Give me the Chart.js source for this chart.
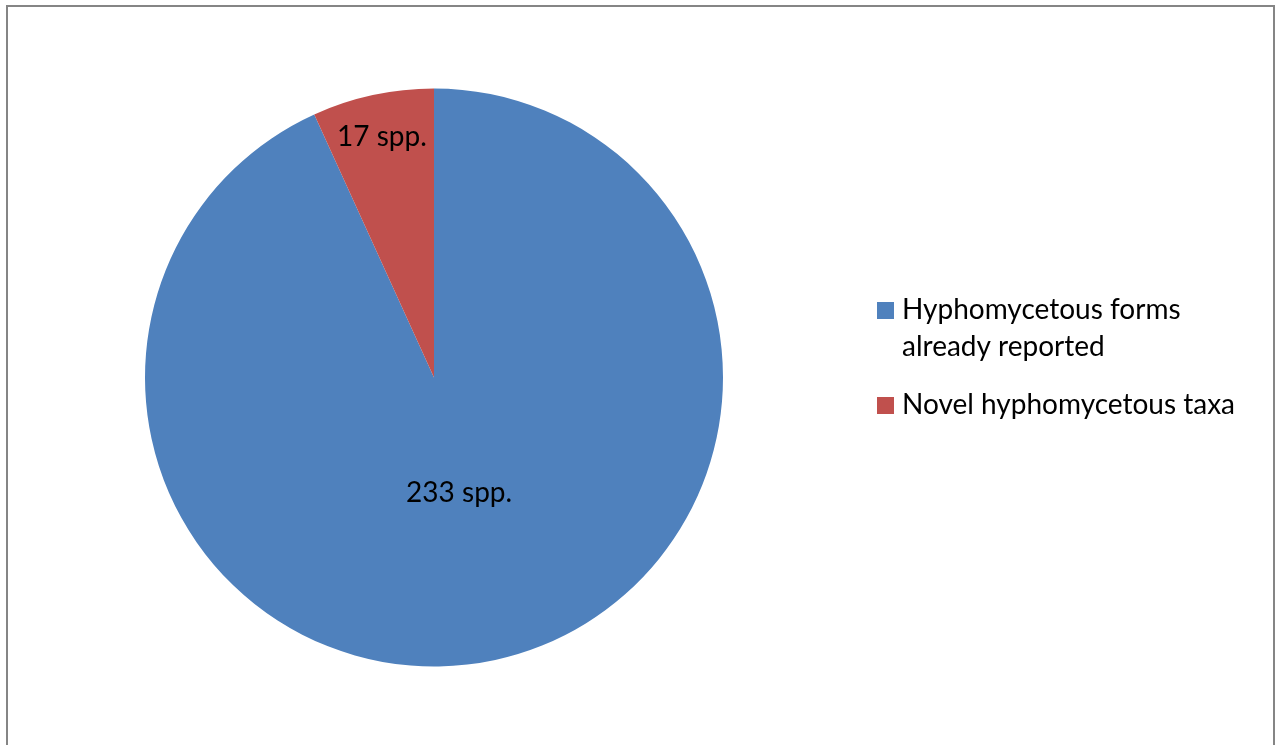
<!DOCTYPE html>
<html>
<head>
<meta charset="utf-8">
<title>Hyphomycetous taxa</title>
<script src="https://cdn.jsdelivr.net/npm/chart.js@4.4.0/dist/chart.umd.min.js"></script>
<style>
  html, body { margin: 0; padding: 0; background: #fff; overflow: hidden; }
  #frame {
    position: absolute; left: 6px; top: 5px; width: 1269px; height: 820px;
    border: 2px solid #858585; box-sizing: border-box;
  }
  #pieChart { position: absolute; left: 0; top: 0; }
</style>
</head>
<body>
<div id="frame"></div>
<canvas id="pieChart" width="1276" height="745"></canvas>
<script>
// data
var categories = [['Hyphomycetous forms', 'already reported'], 'Novel hyphomycetous taxa'];
var speciesCount = [233, 17];
var sliceColors = ['#4f81bd', '#c0504d'];

var FONT = '"Lato", "Liberation Sans", sans-serif';
var labelRadius = [0.41, 0.85];   // where the "spp." labels sit along each slice

// value labels inside the slices
var sliceLabels = {
  id: 'sliceLabels',
  afterDatasetsDraw: function(chart) {
    var ctx = chart.ctx;
    var meta = chart.getDatasetMeta(0);
    ctx.save();
    ctx.font = '28px ' + FONT;
    ctx.fillStyle = '#000';
    ctx.textAlign = 'center';
    ctx.textBaseline = 'middle';
    meta.data.forEach(function(arc, i) {
      var mid = (arc.startAngle + arc.endAngle) / 2;
      var r = arc.outerRadius * labelRadius[i];
      var x = arc.x + Math.cos(mid) * r;
      var y = arc.y + Math.sin(mid) * r;
      ctx.fillText(chart.data.datasets[0].data[i] + ' spp.', x, y);
    });
    ctx.restore();
  }
};

// legend on the right, with the first label on two lines
var sideLegend = {
  id: 'sideLegend',
  afterDraw: function(chart) {
    var ctx = chart.ctx;
    var ds = chart.data.datasets[0];
    var x = 877, y = 302, box = 17, lineH = 37, gap = 21;
    ctx.save();
    ctx.font = '28px ' + FONT;
    ctx.textAlign = 'left';
    ctx.textBaseline = 'alphabetic';
    chart.data.labels.forEach(function(lbl, i) {
      var lines = Array.isArray(lbl) ? lbl : [lbl];
      ctx.fillStyle = ds.backgroundColor[i];
      ctx.fillRect(x, y, box, box);
      ctx.fillStyle = '#000';
      lines.forEach(function(t, j) {
        ctx.fillText(t, x + 25, y + box + j * lineH);
      });
      y += lines.length * lineH + gap;
    });
    ctx.restore();
  }
};

var chart = new Chart(document.getElementById('pieChart'), {
  type: 'pie',
  data: {
    labels: categories,
    datasets: [{
      data: speciesCount,
      backgroundColor: sliceColors,
      borderWidth: 0,
      hoverOffset: 0
    }]
  },
  options: {
    responsive: false,
    animation: false,
    layout: { padding: { left: 145, top: 88, right: 553, bottom: 78 } },
    plugins: {
      legend: { display: false },
      tooltip: { enabled: false }
    }
  },
  plugins: [sliceLabels, sideLegend]
});
</script>
</body>
</html>
